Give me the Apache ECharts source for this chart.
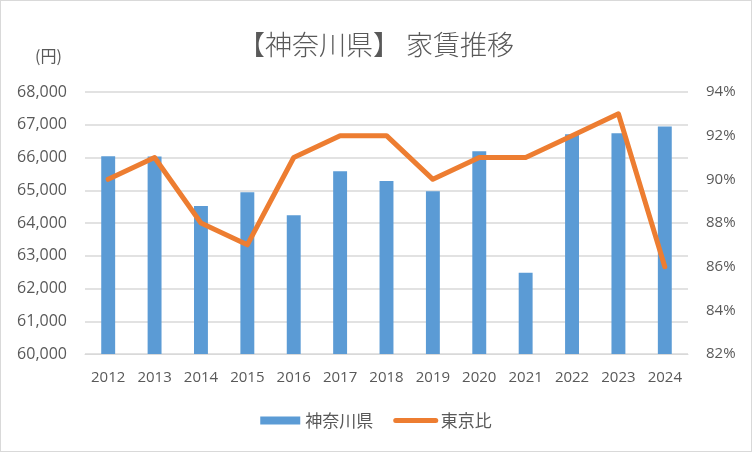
<!DOCTYPE html>
<html><head><meta charset="utf-8">
<script src="https://cdn.jsdelivr.net/npm/echarts@6/dist/echarts.min.js"></script>
<style>html,body{margin:0;padding:0;background:#fff}#c{width:750px;height:450px;border:1px solid #d9d9d9}</style>
</head><body><div id="c"></div>
<script>
const years = ['2012','2013','2014','2015','2016','2017','2018','2019','2020','2021','2022','2023','2024'];
const rent = [66040,66030,64520,64940,64240,65580,65280,64970,66190,62480,66710,66740,66950];
const ratio = [90,91,88,87,91,92,92,90,91,91,92,93,86];
const chart = echarts.init(document.getElementById('c'));
const font = '"Noto Sans CJK JP","Open Sans",sans-serif';
chart.setOption({
  animation:false,
  textStyle:{fontFamily:font},
  title:{text:'【神奈川県】 家賃推移',left:'center',top:25,textStyle:{fontSize:27,fontWeight:300,color:'#595959',fontFamily:font}},
  graphic:[{type:'text',left:34,top:47,style:{text:'(円)',fontSize:16,fill:'#595959',fontFamily:font}}],
  legend:{bottom:17,left:'center',itemWidth:40,itemHeight:8,itemGap:20,textStyle:{fontSize:17,color:'#595959',fontFamily:font},
    data:[{name:'神奈川県',icon:'rect'},{name:'東京比',itemStyle:{opacity:0},lineStyle:{width:5,cap:'round'}}]},
  grid:{left:84,right:63,top:91,bottom:97,containLabel:false},
  xAxis:{type:'category',data:years,axisTick:{show:false},axisLine:{lineStyle:{color:'#d9d9d9'}},
    axisLabel:{color:'#595959',fontSize:15,margin:16,fontFamily:'"Open Sans",sans-serif'}},
  yAxis:[
    {type:'value',min:60000,max:68000,interval:1000,axisLine:{show:false},axisTick:{show:false},
     splitLine:{lineStyle:{color:'#d9d9d9',width:1.5}},
     axisLabel:{color:'#595959',fontSize:16,margin:18,fontFamily:'"Open Sans",sans-serif',formatter:v=>v.toLocaleString('en-US')}},
    {type:'value',min:82,max:94,interval:2,axisLine:{show:false},axisTick:{show:false},splitLine:{show:false},
     axisLabel:{color:'#595959',fontSize:15,margin:18,fontFamily:'"Open Sans",sans-serif',formatter:'{value}%'}}
  ],
  series:[
    {name:'神奈川県',type:'bar',data:rent,barWidth:'30%',itemStyle:{color:'#5B9BD5'}},
    {name:'東京比',type:'line',yAxisIndex:1,data:ratio,symbol:'none',lineStyle:{color:'#ED7D31',width:5,cap:'round',join:'round'},itemStyle:{color:'#ED7D31'}}
  ]
});
</script></body></html>
